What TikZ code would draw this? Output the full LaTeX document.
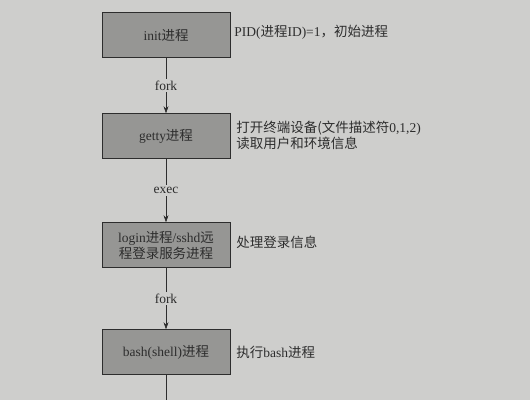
\documentclass[tikz,border=0pt]{standalone}
\usepackage{fontspec}
\setmainfont{Liberation Serif}
\newfontfamily\cjk{Noto Sans CJK SC}
\usetikzlibrary{arrows.meta}
\definecolor{page}{RGB}{206,206,204}
\definecolor{boxgray}{RGB}{150,150,148}
\definecolor{ink}{RGB}{45,45,45}
\begin{document}
\begin{tikzpicture}[
    font=\fontsize{9.6}{11.4}\selectfont, text=ink,
    proc/.style={draw=ink, fill=boxgray, minimum width=3.2cm, minimum height=1.12cm, align=center, inner sep=1pt},
    note/.style={anchor=west, align=left, inner sep=0pt},
    lbl/.style={fill=page, inner sep=1.5pt}]
  \fill[page] (0,0) rectangle (13.25,10);
  \useasboundingbox (0,0) rectangle (13.25,10);
  \draw
    (4.15,9.125) node[proc] (init){init{\cjk 进程}}
    (4.15,6.6) node[proc] (getty){getty{\cjk 进程}}
    (4.15,3.875) node[proc] (login){login{\cjk 进程}/sshd{\cjk 远}\\{\cjk 程登录服务进程}}
    (4.15,1.2) node[proc] (bash){bash(shell){\cjk 进程}};
  \coordinate (end) at (4.15,0);
  \draw
    (5.85,9.2) node[note] (n1){PID({\cjk 进程}ID)=1{\cjk ，初始进程}}
    (5.9,6.61) node[note] (n2){{\cjk 打开终端设备(文件描述符}0,1,2)\\{\cjk 读取用户和环境信息}}
    (5.9,3.93) node[note] (n3){{\cjk 处理登录信息}}
    (5.9,1.18) node[note] (n4){{\cjk 执行}bash{\cjk 进程}};
  \begin{scope}[-{Stealth[length=5pt,width=3.5pt]}, draw=ink, thin]
    \draw (init) to node[lbl]{fork} (getty);
    \draw (getty) to node[lbl]{exec} (login);
    \draw (login) to node[lbl]{fork} (bash);
    \draw[-] (bash) to (end);
  \end{scope}
\end{tikzpicture}
\end{document}
